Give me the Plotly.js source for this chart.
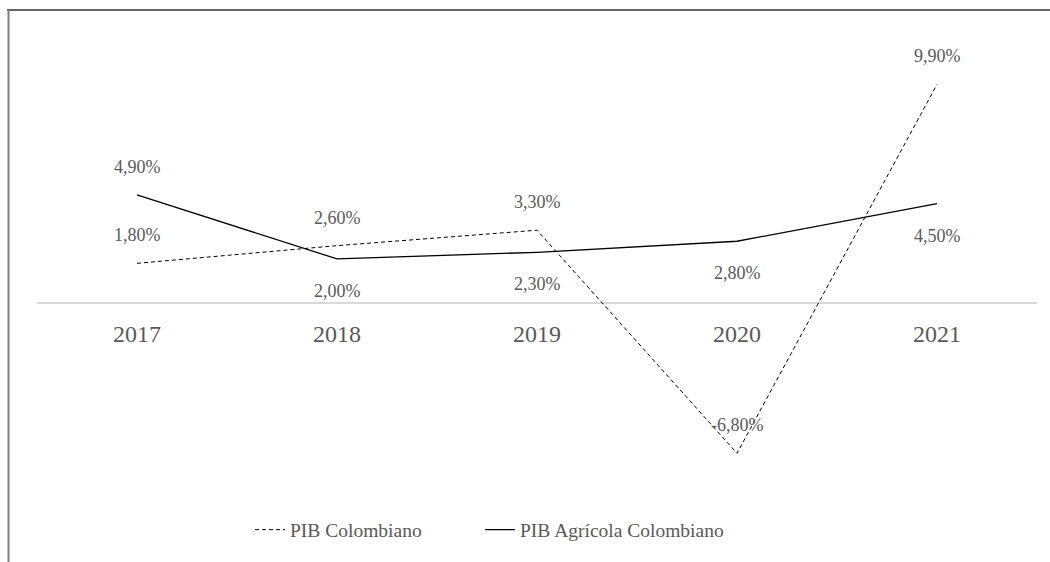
<!DOCTYPE html>
<html>
<head>
<meta charset="utf-8">
<script src="https://cdn.plot.ly/plotly-3.0.1.min.js"></script>
<style>
  html, body { margin: 0; padding: 0; background: #fff; }
  #chart { width: 1050px; height: 562px; }
</style>
</head>
<body>
<div id="chart"></div>
<script>
// Annual growth, Colombia
const years = ['2017', '2018', '2019', '2020', '2021'];
const pibColombiano = [1.8, 2.6, 3.3, -6.8, 9.9];
const pibAgricola = [4.9, 2.0, 2.3, 2.8, 4.5];
const seriesNames = ['PIB Colombiano', 'PIB Agrícola Colombiano'];

const FONT = 'Liberation Serif';
const TEXT_GREY = '#595959';
const yRange = [-10, 12];

function fmt(v) {
  return v.toFixed(2).replace('.', ',') + '%';
}

const traces = [
  {
    x: years, y: pibColombiano, name: seriesNames[0],
    type: 'scatter', mode: 'lines', legend: 'legend',
    line: { color: '#000', width: 1, dash: '4px,3px' },
    hoverinfo: 'skip'
  },
  {
    x: years, y: pibAgricola, name: seriesNames[1],
    type: 'scatter', mode: 'lines', legend: 'legend2',
    line: { color: '#000', width: 1.3 },
    hoverinfo: 'skip'
  }
];

// value labels: which side of the point each sits on (1 above, -1 below)
const sideColombiano = [1, 1, 1, 1, 1];
const sideAgricola = [1, -1, -1, -1, -1];

const annotations = [];
function addLabels(values, sides) {
  values.forEach((v, i) => {
    annotations.push({
      x: i, y: v, xref: 'x', yref: 'y',
      text: fmt(v), showarrow: false,
      yshift: sides[i] > 0 ? 28 : -32,
      font: { family: FONT, size: 18, color: TEXT_GREY }
    });
  });
}
addLabels(pibColombiano, sideColombiano);
addLabels(pibAgricola, sideAgricola);

const zeroPos = (0 - yRange[0]) / (yRange[1] - yRange[0]);

function legendAt(px) {
  return {
    orientation: 'h', xref: 'container', yref: 'container',
    x: px / 1050, xanchor: 'left', y: 0.057, yanchor: 'middle',
    font: { family: FONT, size: 19.5, color: TEXT_GREY }
  };
}

const layout = {
  width: 1050, height: 562,
  margin: { l: 37, r: 13, t: 38, b: 38, autoexpand: false },
  paper_bgcolor: '#fff', plot_bgcolor: '#fff',
  font: { family: FONT, color: TEXT_GREY },
  showlegend: true,
  legend: legendAt(250),
  legend2: legendAt(480),
  xaxis: {
    type: 'category', range: [-0.5, 4.5],
    anchor: 'free', position: zeroPos,
    showline: false, showgrid: false, zeroline: false, ticks: '',
    ticklabelstandoff: 14,
    tickfont: { family: FONT, size: 24, color: TEXT_GREY },
    fixedrange: true
  },
  yaxis: {
    range: yRange, showgrid: false, showticklabels: false, ticks: '',
    zeroline: true, zerolinecolor: '#d9d9d9', zerolinewidth: 2,
    showline: false, fixedrange: true
  },
  annotations: annotations,
  shapes: [
    // outer frame: top and left edges
    { type: 'line', xref: 'paper', yref: 'paper', x0: -0.03, x1: 1.013, y0: 1.0576, y1: 1.0576,
      line: { color: '#333', width: 1.5 } },
    { type: 'line', xref: 'paper', yref: 'paper', x0: -0.0285, x1: -0.0285, y0: 1.0576, y1: -0.08,
      line: { color: '#808080', width: 2 } }
  ]
};

Plotly.newPlot('chart', traces, layout, { displayModeBar: false });
</script>
</body>
</html>
